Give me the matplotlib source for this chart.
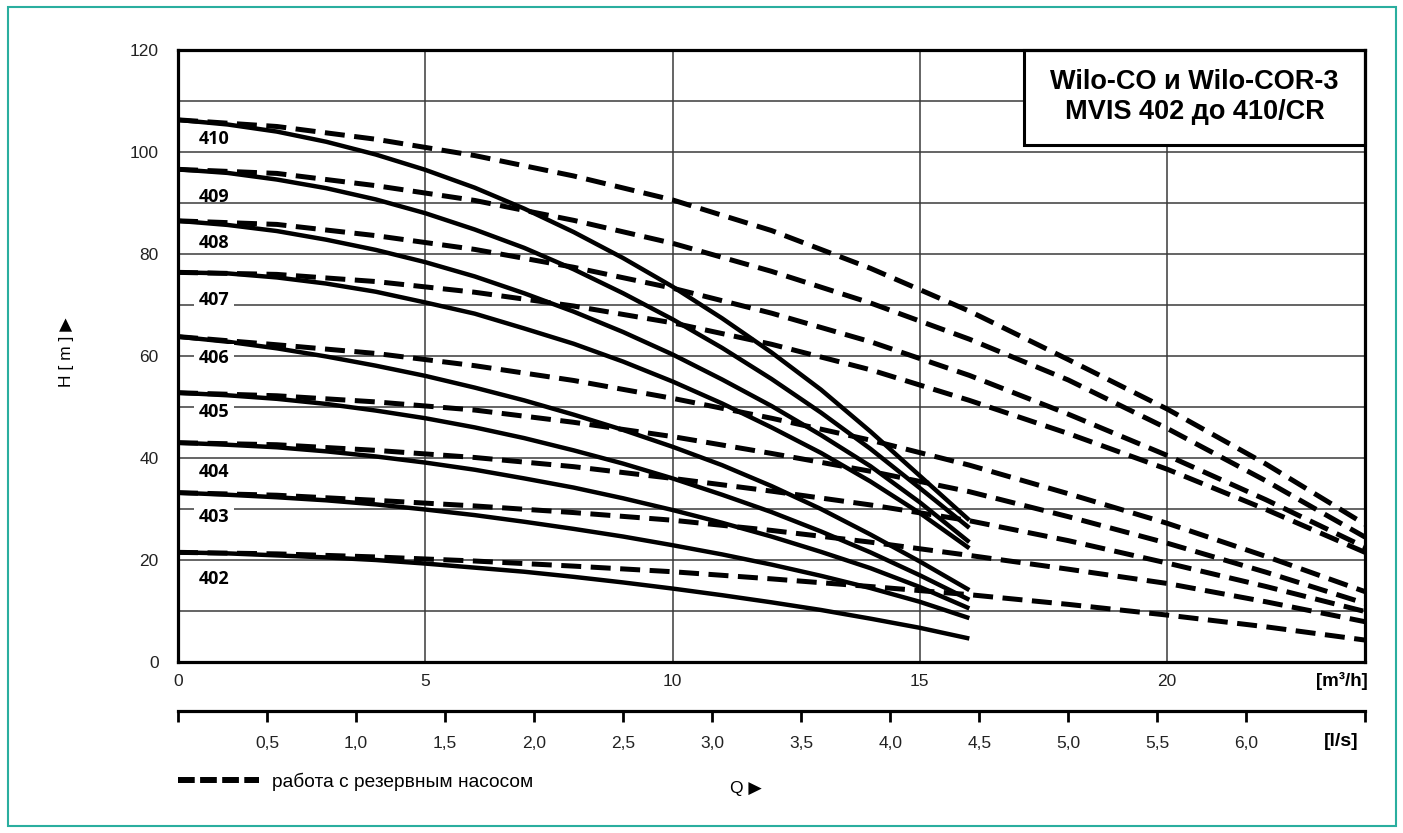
import matplotlib
matplotlib.use("Agg")
import matplotlib.pyplot as plt
from matplotlib.lines import Line2D
from matplotlib.patches import Rectangle
from matplotlib import font_manager

# ---------------- data ----------------
pumps = ["410", "409", "408", "407", "406", "405", "404", "403", "402"]

# solid curves: normal operation, Q in m3/h
Q_solid = [0, 1, 2, 3, 4, 5, 6, 7, 8, 9, 10, 11, 12, 13, 14, 15, 16]
solid_410 = [106.3, 105.4, 104.0, 102.0, 99.5, 96.5, 93.0, 88.9, 84.3, 79.2,
             73.6, 67.4, 60.7, 53.4, 45.2, 36.5, 27.8]
solid_409 = [96.6, 95.9, 94.6, 92.9, 90.7, 88.0, 84.8, 81.2, 77.0, 72.3,
             67.2, 61.6, 55.5, 48.9, 41.8, 34.1, 26.3]
solid_408 = [86.5, 85.7, 84.5, 82.8, 80.8, 78.4, 75.6, 72.3, 68.7, 64.7,
             60.3, 55.4, 50.2, 44.5, 38.4, 31.3, 23.5]
solid_407 = [76.4, 76.2, 75.4, 74.2, 72.6, 70.5, 68.3, 65.4, 62.4, 58.9,
             55.0, 50.7, 46.0, 41.0, 35.4, 29.2, 22.3]
solid_406 = [63.8, 62.8, 61.5, 59.9, 58.1, 56.1, 53.8, 51.3, 48.5, 45.5,
             42.2, 38.6, 34.5, 30.0, 25.0, 19.7, 14.1]
solid_405 = [52.8, 52.3, 51.6, 50.6, 49.3, 47.8, 46.0, 43.9, 41.5, 38.9,
             36.0, 32.8, 29.4, 25.6, 21.5, 17.0, 12.2]
solid_404 = [43.0, 42.6, 42.1, 41.3, 40.3, 39.1, 37.7, 36.0, 34.2, 32.1,
             29.8, 27.3, 24.6, 21.6, 18.4, 14.7, 10.5]
solid_403 = [33.2, 32.8, 32.3, 31.7, 30.9, 29.9, 28.8, 27.5, 26.1, 24.6,
             22.9, 21.1, 19.1, 16.9, 14.5, 11.8, 8.6]
solid_402 = [21.5, 21.3, 20.9, 20.5, 20.0, 19.3, 18.5, 17.7, 16.7, 15.6,
             14.4, 13.1, 11.7, 10.2, 8.5, 6.7, 4.6]

# dashed curves: operation with standby pump, Q in m3/h
Q_dash = [0, 2, 4, 6, 8, 10, 12, 14, 16, 18, 20, 22, 24]
dash_410 = [106.3, 105.0, 102.5, 99.3, 95.3, 90.6, 84.6, 77.2, 68.8, 59.3,
            49.6, 38.8, 27.0]
dash_409 = [96.6, 95.8, 93.4, 90.5, 86.6, 82.1, 76.6, 70.4, 63.3, 55.3,
            45.8, 35.5, 24.5]
dash_408 = [86.5, 85.8, 83.6, 80.9, 77.4, 73.3, 68.4, 62.8, 56.2, 48.6,
            40.5, 31.8, 22.5]
dash_407 = [76.4, 76.0, 74.6, 72.5, 69.8, 66.5, 62.3, 57.3, 51.3, 44.8,
            37.8, 29.9, 21.5]
dash_406 = [63.8, 62.2, 60.5, 58.1, 55.2, 51.7, 47.8, 43.5, 38.6, 33.0,
            27.2, 20.7, 13.8]
dash_405 = [52.8, 52.2, 51.0, 49.4, 47.0, 44.2, 40.9, 37.4, 33.4, 28.5,
            23.3, 17.6, 11.5]
dash_404 = [43.0, 42.6, 41.5, 40.1, 38.3, 36.0, 33.5, 30.8, 27.7, 23.8,
            19.4, 14.8, 9.9]
dash_403 = [33.2, 32.7, 31.7, 30.6, 29.3, 27.8, 25.8, 23.5, 20.9, 18.2,
            15.4, 11.8, 7.9]
dash_402 = [21.5, 21.2, 20.6, 19.8, 18.8, 17.7, 16.3, 14.8, 13.2, 11.3,
            9.2, 6.9, 4.3]

solid_curves = [solid_410, solid_409, solid_408, solid_407, solid_406,
                solid_405, solid_404, solid_403, solid_402]
dash_curves = [dash_410, dash_409, dash_408, dash_407, dash_406,
               dash_405, dash_404, dash_403, dash_402]

m3h_ticks = [0, 5, 10, 15, 20]
H_ticks = [0, 10, 20, 30, 40, 50, 60, 70, 80, 90, 100, 110, 120]
ls_ticks = [0.5, 1.0, 1.5, 2.0, 2.5, 3.0, 3.5, 4.0, 4.5, 5.0, 5.5, 6.0]
ls_tick_labels = ["0,5", "1,0", "1,5", "2,0", "2,5", "3,0", "3,5", "4,0",
                  "4,5", "5,0", "5,5", "6,0"]

title_text = "Wilo-CO и Wilo-COR-3\nMVIS 402 до 410/CR"
legend_text = "работа с резервным насосом"

# label placement (positions, not data)
label_x = 0.73
label_y = [102.5, 91.2, 82.2, 71.0, 59.7, 49.1, 37.3, 28.4, 16.2]
label_break_grid = {"407", "406", "405", "403"}

# ---------------- figure ----------------
names = {f.name for f in font_manager.fontManager.ttflist}
sans = "Liberation Sans" if "Liberation Sans" in names else "DejaVu Sans"
narrow = "Liberation Sans Narrow" if "Liberation Sans Narrow" in names else sans
lab_font = "Open Sans" if "Open Sans" in names else sans
plt.rcParams["font.family"] = [sans, "DejaVu Sans"]

W_px, H_px = 1403, 833
fig = plt.figure(figsize=(W_px / 100, H_px / 100), dpi=100)

left, right, top, bottom = 178, 1365, 50, 662
ax = fig.add_axes([left / W_px, 1 - bottom / H_px, (right - left) / W_px,
                   (bottom - top) / H_px])
Qmax = 24
ax.set_xlim(0, Qmax)
ax.set_ylim(0, 120)

ax.set_xticks(m3h_ticks)
ax.set_xticklabels([str(t) for t in m3h_ticks])
ax.set_yticks(H_ticks)
ax.set_yticklabels([str(t) if t % 20 == 0 else "" for t in H_ticks])
ax.tick_params(axis="both", length=0, labelsize=12.5, labelcolor="#222222")
ax.tick_params(axis="y", pad=14)
ax.tick_params(axis="x", pad=9)
ax.grid(True, color="#3a3a3a", lw=1.1, zorder=0)
for s in ax.spines.values():
    s.set_linewidth(2.3)
    s.set_color("black")
    s.set_zorder(6)

for h in solid_curves:
    ax.plot(Q_solid, h, color="black", lw=3.2, solid_capstyle="butt",
            solid_joinstyle="round", zorder=3)
for h in dash_curves:
    ax.plot(Q_dash, h, color="black", lw=3.6, dashes=(4, 1.9), zorder=3)

for name, y in zip(pumps, label_y):
    kw = {}
    if name in label_break_grid:
        kw["bbox"] = dict(boxstyle="square,pad=0.25", fc="white", ec="none")
    ax.text(label_x, y, name, ha="center", va="center", fontsize=13,
            fontweight="bold", family=[lab_font, "DejaVu Sans"], zorder=4,
            **kw)

# title box
bx0, bx1 = (1024 - left) / (right - left), 1.0
by0, by1 = (bottom - 145) / (bottom - top), 1.0
ax.add_patch(Rectangle((bx0, by0), bx1 - bx0, by1 - by0, transform=ax.transAxes,
                       facecolor="white", edgecolor="black", lw=2.2, zorder=5,
                       clip_on=False))
ax.text((bx0 + bx1) / 2, (by0 + by1) / 2, title_text, transform=ax.transAxes,
        ha="center", va="center", fontsize=19.5, fontweight="bold",
        linespacing=1.2, zorder=6)

fig.text(1342 / W_px, 1 - 681 / H_px, "[m³/h]", ha="center", va="center",
         fontsize=13.5, fontweight="bold", family=[narrow, "DejaVu Sans"])

# secondary l/s axis
ax2 = fig.add_axes([left / W_px, 1 - 711 / H_px, (right - left) / W_px, 1e-4])
ax2.set_xlim(0, Qmax / 3.6)
ax2.set_ylim(0, 1)
ax2.patch.set_visible(False)
for s in ["top", "left", "right"]:
    ax2.spines[s].set_visible(False)
ax2.spines["bottom"].set_linewidth(2.3)
ax2.set_yticks([])
ax2.set_xticks([0] + ls_ticks + [Qmax / 3.6])
ax2.set_xticklabels([""] + ls_tick_labels + [""])
ax2.tick_params(axis="x", direction="out", length=8, width=2, pad=10,
                labelsize=12.5, labelcolor="#222222")
fig.text(1341 / W_px, 1 - 741 / H_px, "[l/s]", ha="center", va="center",
         fontsize=14, fontweight="bold", family=[narrow, "DejaVu Sans"])

# axis titles
fig.text(67 / W_px, 1 - 352 / H_px, "H [ m ] ▶", rotation=90, ha="center",
         va="center", fontsize=12.5, family=[sans, "DejaVu Sans"])
fig.text(746 / W_px, 1 - 789 / H_px, "Q ▶", ha="center", va="center",
         fontsize=12.5, family=[sans, "DejaVu Sans"])

# legend
handle = Line2D([], [], color="black", lw=4.3, dashes=(2.8, 0.9))
fig.legend([handle], [legend_text], loc="center left",
           bbox_to_anchor=(left / W_px, 1 - 782 / H_px), frameon=False,
           fontsize=13.8, handlelength=4.2, handletextpad=0.7, borderpad=0,
           borderaxespad=0)

# teal frame around the figure
fig.patches.append(Rectangle((8 / W_px, 1 - 826 / H_px), (1396 - 8) / W_px,
                             (826 - 7) / H_px, transform=fig.transFigure,
                             facecolor="none", edgecolor="#2aae9f", lw=1.5))

fig.savefig("out.png", dpi=100)
